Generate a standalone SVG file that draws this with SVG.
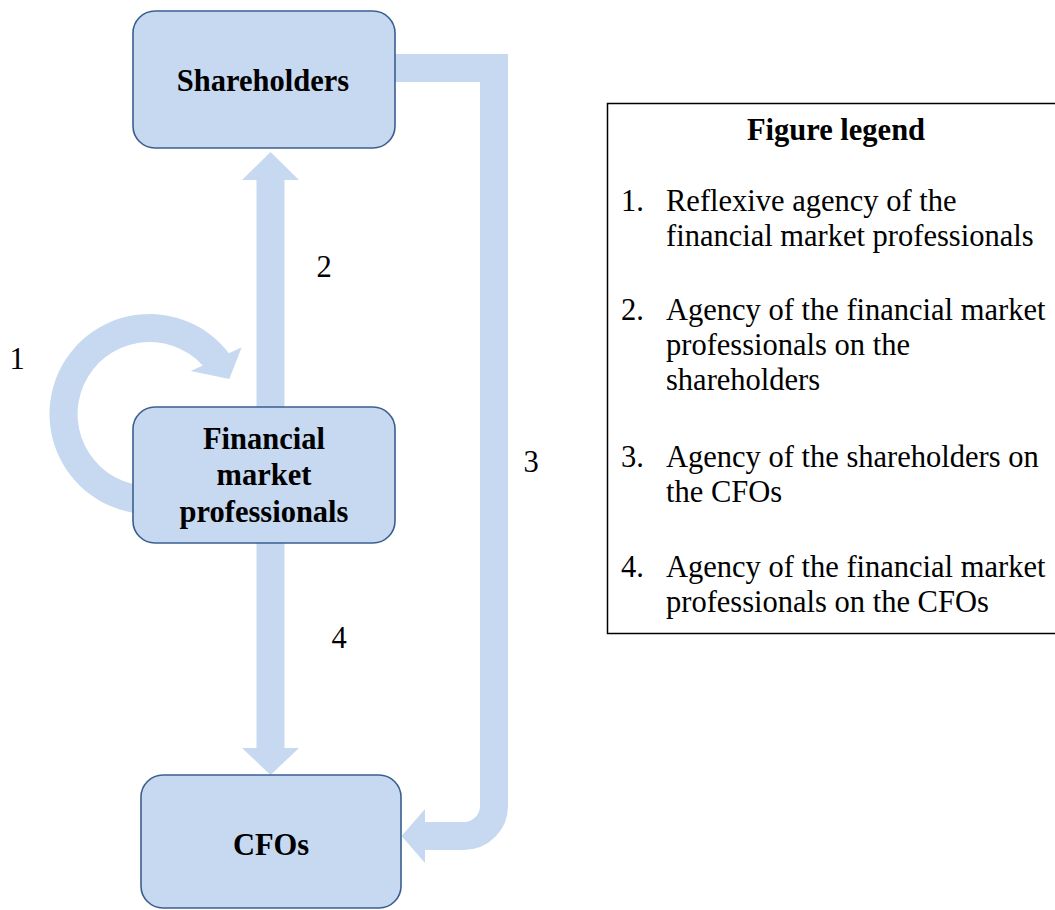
<svg xmlns="http://www.w3.org/2000/svg" width="1055" height="910" viewBox="0 0 1055 910">
<style>
.node{fill:#C6D9F0;stroke:#3A5F8F;stroke-width:1.6}
.ntext{font-family:"Liberation Serif","Times New Roman",serif;font-weight:bold;font-size:30.5px;fill:#000;text-anchor:middle}
.lbl{font-family:"Liberation Serif","Times New Roman",serif;font-size:30.5px;fill:#000;text-anchor:middle}
.leg{font-family:"Liberation Serif","Times New Roman",serif;font-size:30.5px;fill:#000}
.band{fill:none;stroke:#C6D9F0;stroke-width:28;stroke-linejoin:miter}
.head{fill:#C6D9F0}
</style>
<rect width="1055" height="910" fill="#fff"/>
<g id="connectors">
  <!-- 1: reflexive loop -->
  <path class="head" d="M149.5 514 A100 100 0 1 1 228.9 353.2 L241.7 347.3 L229.3 379 L190.7 371 L202.7 365.4 A72 72 0 1 0 149.5 486 Z"/>
  <!-- 2: FMP to Shareholders -->
  <line class="band" x1="270.5" y1="407" x2="270.5" y2="179"/>
  <polygon class="head" points="242,180 270.5,152 299,180"/>
  <!-- 3: Shareholders to CFOs -->
  <path class="band" d="M393 68 H494 V806 A30 30 0 0 1 464 836 H424"/>
  <polygon class="head" points="425,809 401.5,836 425,863"/>
  <!-- 4: FMP to CFOs -->
  <line class="band" x1="270.5" y1="543" x2="270.5" y2="749"/>
  <polygon class="head" points="242,748 270.5,775 299,748"/>
  <text class="lbl" x="17" y="369">1</text>
  <text class="lbl" x="324" y="277">2</text>
  <text class="lbl" x="531" y="472">3</text>
  <text class="lbl" x="339" y="648">4</text>
</g>
<g id="shareholders">
  <rect class="node" x="133" y="11" width="262" height="137" rx="22"/>
  <text class="ntext" x="263" y="90.5">Shareholders</text>
</g>
<g id="fmp">
  <rect class="node" x="133" y="407" width="262" height="136" rx="22"/>
  <text class="ntext" x="264" y="449">Financial</text>
  <text class="ntext" x="264" y="485">market</text>
  <text class="ntext" x="264" y="521.5">professionals</text>
</g>
<g id="cfos">
  <rect class="node" x="141" y="775" width="260" height="133" rx="22"/>
  <text class="ntext" x="271" y="855">CFOs</text>
</g>
<g id="legend">
  <rect x="607.5" y="103.5" width="450" height="530" fill="#fff" stroke="#000" stroke-width="1.5"/>
  <text class="ntext" x="836" y="140">Figure legend</text>
  <text class="leg" x="621" y="211">1.</text>
  <text class="leg" x="666" y="211">Reflexive agency of the</text>
  <text class="leg" x="666" y="246">financial market professionals</text>
  <text class="leg" x="621" y="320">2.</text>
  <text class="leg" x="666" y="320">Agency of the financial market</text>
  <text class="leg" x="666" y="355">professionals on the</text>
  <text class="leg" x="666" y="390">shareholders</text>
  <text class="leg" x="621" y="467">3.</text>
  <text class="leg" x="666" y="467">Agency of the shareholders on</text>
  <text class="leg" x="666" y="502">the CFOs</text>
  <text class="leg" x="621" y="577">4.</text>
  <text class="leg" x="666" y="577">Agency of the financial market</text>
  <text class="leg" x="666" y="612">professionals on the CFOs</text>
</g>
</svg>
